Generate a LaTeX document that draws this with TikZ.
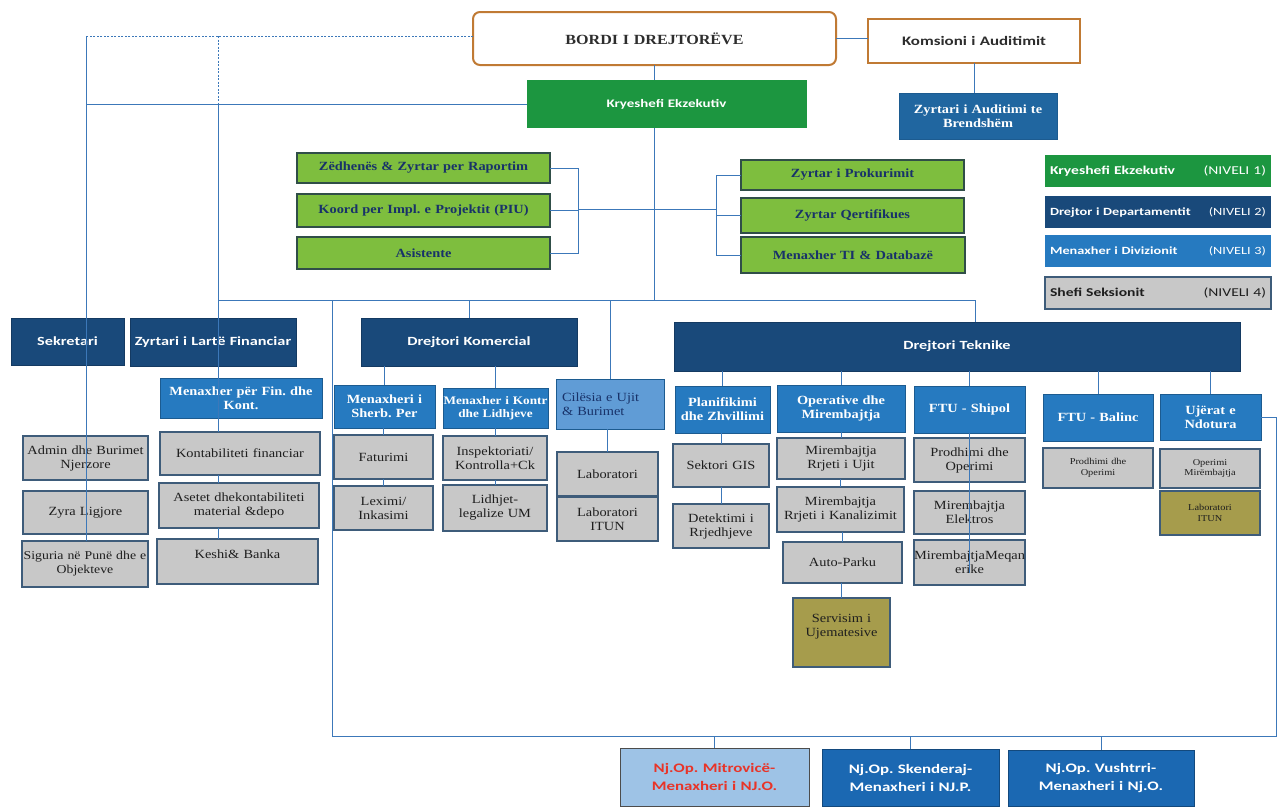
\documentclass[tikz,border=0pt]{standalone}
\usepackage{fontspec}
\setmainfont{Liberation Serif}[FakeStretch=1.15]
\newfontfamily\orgsans{Carlito}[FakeStretch=1.3]
\frenchspacing

\definecolor{linkblue}{RGB}{60,120,185}
\definecolor{boardedge}{RGB}{192,122,52}
\definecolor{boardtext}{RGB}{45,45,45}
\definecolor{chiefgreen}{RGB}{28,150,64}
\definecolor{staffgreen}{RGB}{126,190,62}
\definecolor{staffedge}{RGB}{48,78,72}
\definecolor{stafftext}{RGB}{24,50,105}
\definecolor{navy}{RGB}{25,73,122}
\definecolor{midblue}{RGB}{38,122,192}
\definecolor{auditblue}{RGB}{32,102,160}
\definecolor{lightblue}{RGB}{96,156,214}
\definecolor{sectiongray}{RGB}{200,200,200}
\definecolor{sectionedge}{RGB}{62,92,122}
\definecolor{sectiontext}{RGB}{30,30,30}
\definecolor{olive}{RGB}{166,156,76}
\definecolor{unitblue}{RGB}{27,104,178}
\definecolor{mitroblue}{RGB}{158,195,230}
\definecolor{mitrored}{RGB}{232,52,40}
\newcommand{\lvlgap}{\hskip 0pt plus 1filll}

\begin{document}
\begin{tikzpicture}[x=1pt,y=-1pt]
\tikzstyle{every node}+=[inner sep=0pt, outer sep=0pt, align=center]
\tikzset{wh/.style 2 args={minimum width=#1pt, minimum height=#2pt, text width=#1pt}}
\tikzstyle{link}=[draw=linkblue, line width=0.9pt]
\tikzstyle{board}=[draw=boardedge, line width=2pt, rounded corners=7pt, fill=white, text=boardtext, font=\bfseries\fontsize{14}{16}\selectfont]
\tikzstyle{committee}=[draw=boardedge, line width=1.5pt, fill=white, text=boardtext, font=\orgsans\bfseries\fontsize{13}{15}\selectfont]
\tikzstyle{chief}=[fill=chiefgreen, text=white, font=\orgsans\bfseries\fontsize{11.5}{13}\selectfont]
\tikzstyle{staff}=[fill=staffgreen, draw=staffedge, line width=1.3pt, text=stafftext, font=\bfseries\fontsize{12.5}{14}\selectfont]
\tikzstyle{director}=[fill=navy, draw=navy!80!black, line width=0.6pt, text=white, font=\orgsans\bfseries\fontsize{12.5}{14}\selectfont]
\tikzstyle{manager}=[fill=midblue, draw=midblue!75!black, line width=0.6pt, text=white, font=\bfseries\fontsize{12.5}{14}\selectfont]
\tikzstyle{sectionbox}=[fill=sectiongray, draw=sectionedge, line width=1.1pt, text=sectiontext, font=\fontsize{12.5}{14}\selectfont]
\tikzstyle{olivebox}=[sectionbox, fill=olive]
\tikzstyle{smalltext}=[font=\fontsize{9}{10.5}\selectfont]
\tikzstyle{unitbox}=[fill=unitblue, draw=unitblue!70!black, line width=0.8pt, text=white, font=\orgsans\bfseries\fontsize{13}{18}\selectfont]
\tikzstyle{legendbox}=[minimum width=226pt, minimum height=32pt, text width=216pt, inner xsep=5pt, align=left, text=white, font=\orgsans\bfseries\fontsize{11}{13}\selectfont]

\fill[white] (0,0) rectangle (1279,807);
\useasboundingbox (0,0) rectangle (1279,807);

% top of the chart
\node[board, wh={363}{53}] (bordi) at (654.5,38.5) {BORDI I DREJTORËVE};
\node[committee, wh={212}{44}] (komsion) at (974,41) {Komsioni i Auditimit};
\node[chief, wh={280}{48}] (ceo) at (666.5,104) {Kryeshefi Ekzekutiv};
\node[manager, fill=auditblue, wh={158}{46}] (audit) at (978,116) {Zyrtari i Auditimi te\\Brendshëm};

% staff of the chief
\node[staff, wh={253}{30}] (zed) at (423.5,168) {Zëdhenës \& Zyrtar per Raportim};
\node[staff, wh={253}{33}] (koord) at (423.5,210.5) {Koord per Impl. e Projektit (PIU)};
\node[staff, wh={253}{32}] (asis) at (423.5,253) {Asistente};
\node[staff, wh={223}{30}] (prok) at (852.5,175) {Zyrtar i Prokurimit};
\node[staff, wh={223}{35}] (qert) at (852.5,215.5) {Zyrtar Qertifikues};
\node[staff, wh={224}{36}] (ti) at (853,255) {Menaxher TI \& Databazë};

% legend
\node[legendbox, fill=chiefgreen, font=\orgsans\bfseries\fontsize{12}{14}\selectfont] (nivel1) at (1158,171) {Kryeshefi Ekzekutiv\lvlgap{\mdseries (NIVELI 1)}};
\node[legendbox, fill=navy] (nivel2) at (1158,212) {Drejtor i Departamentit\lvlgap{\mdseries (NIVELI 2)}};
\node[legendbox, fill=midblue] (nivel3) at (1158,251) {Menaxher i Divizionit\lvlgap{\mdseries (NIVELI 3)}};
\node[legendbox, fill=sectiongray, draw=sectionedge, line width=1.2pt, text=sectiontext, font=\orgsans\bfseries\fontsize{12}{14}\selectfont] (nivel4) at (1158,293) {Shefi Seksionit\lvlgap{\mdseries (NIVELI 4)}};

% secretary and finance
\node[director, wh={113}{47}] (sek) at (67.5,341.5) {Sekretari};
\node[director, wh={166}{48}] (zlf) at (213,342) {Zyrtari i Lartë Financiar};
\node[manager, wh={162}{40}] (menfin) at (241,398) {Menaxher për Fin. dhe\\Kont.};
\node[sectionbox, wh={125}{44}] (admin) at (85.5,458) {Admin dhe Burimet\\Njerzore};
\node[sectionbox, wh={125}{43}] (zyra) at (85.5,512.5) {Zyra Ligjore};
\node[sectionbox, wh={126}{46}, font=\fontsize{12}{14}\selectfont] (sig) at (85,564) {Siguria në Punë dhe e\\Objekteve};
\node[sectionbox, wh={160}{43}] (kontab) at (240,453.5) {Kontabiliteti financiar};
\node[sectionbox, wh={160}{45}] (asetet) at (239,505.5) {Asetet dhekontabiliteti\\material \&depo};
\node[sectionbox, wh={161}{45}] (keshi) at (237.5,561.5) {Keshi\& Banka\\~};

% commercial
\node[director, wh={216}{48}] (kom) at (469,342) {Drejtori Komercial};
\node[manager, wh={101}{43}] (sherb) at (384.5,406.5) {Menaxheri i\\Sherb. Per};
\node[manager, wh={105}{40}, font=\bfseries\fontsize{11.5}{13.5}\selectfont] (kontr) at (495.5,408) {Menaxher i Kontr\\dhe Lidhjeve};
\node[manager, fill=lightblue, text=stafftext, font=\fontsize{12.5}{14}\selectfont, align=left, inner xsep=6pt, wh={96}{50}] (cil) at (610,404) {Cilësia e Ujit\\\& Burimet};
\node[sectionbox, wh={99}{44}] (fat) at (383.5,457) {Faturimi};
\node[sectionbox, wh={99}{44}] (lex) at (383.5,508) {Leximi/\\Inkasimi};
\node[sectionbox, wh={104}{44}] (insp) at (495,458) {Inspektoriati/\\Kontrolla+Ck};
\node[sectionbox, wh={104}{46}] (lidh) at (495,508) {Lidhjet-\\legalize UM};
\node[sectionbox, wh={101}{44}] (lab) at (607.5,474) {Laboratori};
\node[sectionbox, wh={101}{44}] (labit) at (607.5,519) {Laboratori\\ITUN};

% technical
\node[director, wh={566}{49}] (tek) at (957,346.5) {Drejtori Teknike};
\node[manager, wh={95}{47}] (plan) at (722.5,409.5) {Planifikimi\\dhe Zhvillimi};
\node[manager, wh={128}{47}] (oper) at (841,408.5) {Operative dhe\\Mirembajtja};
\node[manager, wh={111}{47}] (ship) at (969.5,409.5) {FTU - Shipol};
\node[manager, wh={110}{47}] (bal) at (1098,417.5) {FTU - Balinc};
\node[manager, wh={101}{46}] (ujer) at (1210.5,417) {Ujërat e\\Ndotura};
\node[sectionbox, wh={96}{43}] (gis) at (721,465.5) {Sektori GIS};
\node[sectionbox, wh={96}{44}] (det) at (721,526) {Detektimi i\\Rrjedhjeve};
\node[sectionbox, wh={128}{41}] (ujit) at (841,458.5) {Mirembajtja\\Rrjeti i Ujit};
\node[sectionbox, wh={127}{45}] (kanal) at (840.5,509.5) {Mirembajtja\\Rrjeti i Kanalizimit};
\node[sectionbox, wh={119}{41}] (auto) at (842.5,562.5) {Auto-Parku};
\node[olivebox, wh={97}{69}] (serv) at (841.5,632.5) {Servisim i\\Ujematesive\\~};
\node[sectionbox, wh={111}{44}] (prod) at (969.5,460) {Prodhimi dhe\\Operimi};
\node[sectionbox, wh={111}{43}] (elek) at (969.5,512.5) {Mirembajtja\\Elektros};
\node[sectionbox, wh={111}{45}] (mek) at (969.5,562.5) {MirembajtjaMeqan\\erike};
\node[sectionbox, smalltext, wh={110}{40}] (prodb) at (1098,468) {Prodhimi dhe\\Operimi};
\node[sectionbox, smalltext, wh={100}{39}] (operu) at (1210,468.5) {Operimi\\Mirëmbajtja};
\node[olivebox, smalltext, wh={100}{44}] (labu) at (1210,513) {Laboratori\\ITUN};

% operational units
\node[unitbox, fill=mitroblue, draw=gray!60!black, text=mitrored, wh={189}{58}] (mitro) at (714.5,777) {Nj.Op. Mitrovicë-\\Menaxheri i NJ.O.};
\node[unitbox, wh={177}{57}] (skend) at (910.5,777.5) {Nj.Op. Skenderaj-\\Menaxheri i NJ.P.};
\node[unitbox, wh={186}{56}] (vush) at (1101,778) {Nj.Op. Vushtrri-\\Menaxheri i Nj.O.};

% junctions
\coordinate (tl) at (86,36);
\coordinate (tm) at (218,36);
\coordinate (bus) at (218,300);
\coordinate (busend) at (975,300);
\coordinate (fl) at (332,300);
\coordinate (fbl) at (332,736);
\coordinate (fbr) at (1276,736);
\coordinate (lbr) at (578,209);
\coordinate (rbr) at (716,209);

% links
\draw[link, dash pattern=on 2pt off 1.5pt] (bordi.west |- tl) -- (tl);
\draw[link, dash pattern=on 2pt off 1.5pt] (tm) -- (tm |- ceo.west);
\draw[link] (tl) -- (tl |- sig.north);
\draw[link] (tl |- ceo.west) -- (ceo.west);
\draw[link] (tm |- ceo.west) -- (tm |- kontab.north);
\draw[link] (tm |- kontab.south) -- (tm |- asetet.north);
\draw[link] (tm |- asetet.south) -- (tm |- keshi.north);
\draw[link] (bordi.east) -- (bordi.east -| komsion.west);
\draw[link] (komsion.south) -- (komsion.south |- audit.north);
\draw[link] (bordi.south) -- (bordi.south |- ceo.north);
\draw[link] (bordi.south |- ceo.south) -- (bordi.south |- bus);
\draw[link] (zed.east) -| (asis.east -| lbr) -- (asis.east);
\draw[link] (koord.east) -- (koord.east -| lbr);
\draw[link] (lbr) -- (rbr);
\draw[link] (prok.west) -| (ti.west -| rbr) -- (ti.west);
\draw[link] (qert.west) -- (qert.west -| rbr);
\draw[link] (bus) -- (busend) -- (busend |- tek.north);
\draw[link] (kom.north) -- (kom.north |- bus);
\draw[link] (cil.north) -- (cil.north |- bus);
\draw[link] (lab.north |- cil.south) -- (lab.north);
\draw[link] (fl) -- (fbl) -- (fbr) |- (ujer.east);
\foreach \u in {mitro,skend,vush}
  \draw[link] (\u.north) -- (\u.north |- fbl);
\foreach \b in {sherb,kontr}
  \draw[link] (\b.north) -- (\b.north |- kom.south);
\foreach \b in {plan,oper,ship,bal,ujer}
  \draw[link] (\b.north) -- (\b.north |- tek.south);
\foreach \a/\b in {sherb/fat,fat/lex,kontr/insp,insp/lidh,plan/gis,gis/det,oper/ujit,ujit/kanal,kanal/auto,auto/serv}
  \draw[link] (\b.north) -- (\b.north |- \a.south);
\draw[link] (ship.south) -- ([yshift=-10pt]mek.center);
\end{tikzpicture}
\end{document}
